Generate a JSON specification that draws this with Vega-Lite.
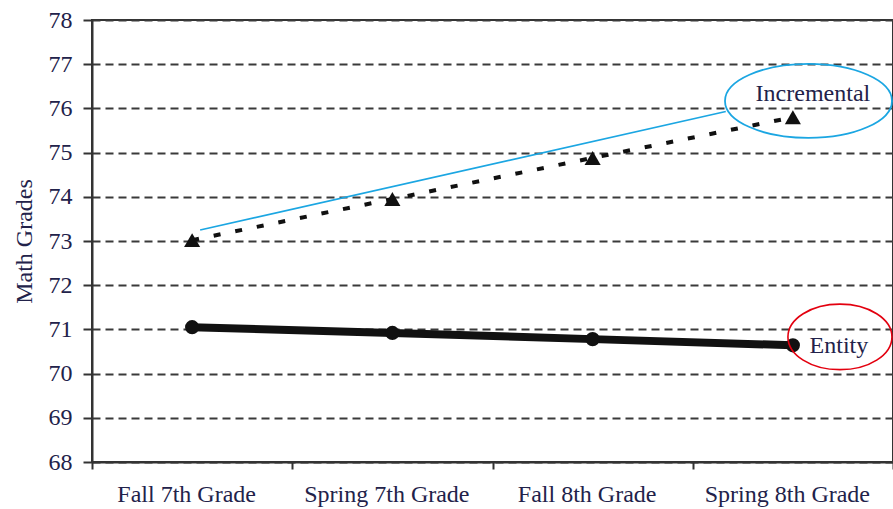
{
  "$schema": "https://vega.github.io/schema/vega-lite/v6.json",
  "width": 801,
  "height": 442,
  "autosize": "none",
  "padding": {"left": 92, "top": 20, "right": 0, "bottom": 47},
  "background": "white",
  "config": {
    "view": {"stroke": "#333", "strokeWidth": 2},
    "font": "Liberation Serif"
  },
  "datasets": {
    "grades": [
      {"term": "Fall 7th Grade", "group": "Incremental", "grade": 73.02},
      {"term": "Spring 7th Grade", "group": "Incremental", "grade": 73.95},
      {"term": "Fall 8th Grade", "group": "Incremental", "grade": 74.88},
      {"term": "Spring 8th Grade", "group": "Incremental", "grade": 75.8},
      {"term": "Fall 7th Grade", "group": "Entity", "grade": 71.05},
      {"term": "Spring 7th Grade", "group": "Entity", "grade": 70.92},
      {"term": "Fall 8th Grade", "group": "Entity", "grade": 70.78},
      {"term": "Spring 8th Grade", "group": "Entity", "grade": 70.64}
    ],
    "labels": [
      {"pos": 3.6, "grade": 76.32, "label": "Incremental"},
      {"pos": 3.73, "grade": 70.62, "label": "Entity"}
    ],
    "blueEllipse": [{"pos": 3.578, "grade": 76.17}],
    "redEllipse": [{"pos": 3.735, "grade": 70.83}],
    "blueLine": [
      {"pos": 0.54, "grade": 73.25},
      {"pos": 3.165, "grade": 75.93}
    ]
  },
  "layer": [
    {
      "data": {"name": "grades"},
      "encoding": {
        "x": {
          "field": "term", "type": "nominal",
          "sort": ["Fall 7th Grade", "Spring 7th Grade", "Fall 8th Grade", "Spring 8th Grade"],
          "scale": {"type": "band", "paddingInner": 0, "paddingOuter": 0},
          "axis": {
            "title": null, "labelAngle": 0, "tickBand": "extent", "tickSize": 7,
            "labelPadding": 13, "labelOffset": -6, "labelFontSize": 24, "labelColor": "#22224a",
            "domainColor": "#333", "domainWidth": 2, "tickColor": "#333", "tickWidth": 2,
            "grid": false
          }
        },
        "y": {
          "field": "grade", "type": "quantitative",
          "scale": {"domain": [68, 78], "nice": false, "zero": false},
          "axis": {
            "values": [68, 69, 70, 71, 72, 73, 74, 75, 76, 77, 78],
            "title": "Math Grades", "titleFontSize": 24, "titleFontWeight": "normal",
            "titleColor": "#22224a", "titlePadding": 12,
            "labelFontSize": 24, "labelColor": "#22224a", "tickSize": 9, "labelPadding": 11,
            "domainColor": "#333", "domainWidth": 2, "tickColor": "#333", "tickWidth": 2,
            "grid": true, "gridDash": [8, 5], "gridColor": "#3a3a3a", "gridWidth": 2
          }
        }
      },
      "layer": [
        {
          "transform": [{"filter": "datum.group === 'Entity'"}],
          "mark": {"type": "line", "color": "#111", "strokeWidth": 8}
        },
        {
          "transform": [{"filter": "datum.group === 'Incremental'"}],
          "mark": {"type": "line", "color": "#111", "strokeWidth": 4, "strokeDash": [7, 15]}
        },
        {
          "transform": [{"filter": "datum.group === 'Entity'"}],
          "mark": {"type": "point", "shape": "circle", "filled": true, "color": "#111", "opacity": 1, "size": 200}
        },
        {
          "transform": [{"filter": "datum.group === 'Incremental'"}],
          "mark": {"type": "point", "shape": "triangle-up", "filled": true, "color": "#111", "opacity": 1, "size": 260}
        }
      ]
    },
    {
      "encoding": {
        "x": {"field": "pos", "type": "quantitative", "scale": {"domain": [0, 4], "nice": false, "zero": false}, "axis": null},
        "y": {"field": "grade", "type": "quantitative"}
      },
      "layer": [
        {
          "data": {"name": "blueLine"},
          "mark": {"type": "line", "color": "#1ba6e2", "strokeWidth": 1.6}
        },
        {
          "data": {"name": "blueEllipse"},
          "mark": {"type": "point", "shape": "M -1 0 A 1 0.443 0 1 1 1 0 A 1 0.443 0 1 1 -1 0 Z", "filled": false, "color": "#1ba6e2", "strokeWidth": 1.8, "opacity": 1, "size": 27889}
        },
        {
          "data": {"name": "redEllipse"},
          "mark": {"type": "point", "shape": "M -1 0 A 1 0.63 0 1 1 1 0 A 1 0.63 0 1 1 -1 0 Z", "filled": false, "color": "#e3000f", "strokeWidth": 1.6, "opacity": 1, "size": 10816}
        },
        {
          "data": {"name": "labels"},
          "mark": {"type": "text", "font": "Liberation Serif", "fontSize": 24, "color": "#22224a", "align": "center", "baseline": "middle"},
          "encoding": {"text": {"field": "label"}}
        }
      ]
    }
  ],
  "resolve": {"scale": {"x": "independent"}}
}
